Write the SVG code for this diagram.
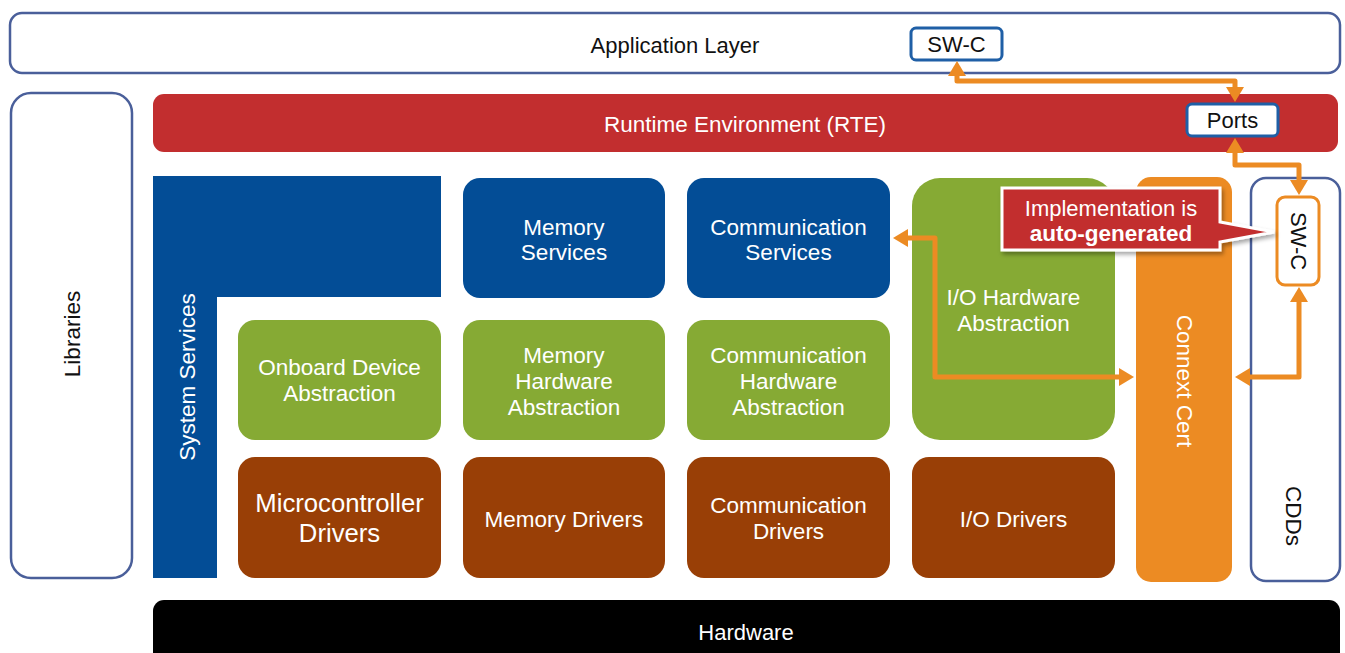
<svg xmlns="http://www.w3.org/2000/svg" width="1345" height="653" viewBox="0 0 1345 653">
<style>
text{font-family:"Liberation Sans",Arial,sans-serif;text-anchor:middle;dominant-baseline:central;font-size:22.5px}
.w{fill:#fff}.k{fill:#111}
.s22{font-size:22px}.big{font-size:25.7px}
.outline{fill:#fff;stroke:#4a5f9a;stroke-width:2.5}
.blue{fill:#034d96}.green{fill:#86aa34}.brown{fill:#993f06}
.conn{fill:none;stroke:#ec8b23;stroke-width:5;stroke-linejoin:round}
</style>
<defs>
<marker id="ah" viewBox="0 0 15 18" markerWidth="15" markerHeight="18" markerUnits="userSpaceOnUse" refX="3" refY="9" orient="auto-start-reverse"><path d="M0,0 L15,9 L0,18 Z" fill="#ec8b23"/></marker>
<filter id="sh" x="-10%" y="-20%" width="130%" height="150%"><feDropShadow dx="2" dy="3" stdDeviation="2" flood-color="#000" flood-opacity="0.35"/></filter>
</defs>
<rect width="1345" height="653" fill="#fff"/>

<g id="app-layer"><rect class="outline" x="10" y="13" width="1330" height="60" rx="12"/><text class="k s22" x="675" y="45">Application Layer</text></g>
<g id="swc-app"><rect x="911" y="28" width="91" height="32" rx="5" fill="#fff" stroke="#1f5fa6" stroke-width="3"/><text class="k s22" x="956.5" y="44">SW-C</text></g>

<g id="libraries"><rect class="outline" x="11" y="93" width="121" height="485" rx="20"/><text class="k" transform="translate(72,334) rotate(-90)">Libraries</text></g>

<g id="rte"><rect x="153" y="94" width="1185" height="58" rx="11" fill="#c22e2f"/><text class="w" x="745" y="124">Runtime Environment (RTE)</text></g>
<g id="ports"><rect x="1187" y="104" width="91" height="32" rx="5" fill="#fff" stroke="#1f5fa6" stroke-width="3"/><text class="k s22" x="1232.5" y="120">Ports</text></g>

<g id="system-services"><path class="blue" d="M153,176 H441 V297 H217 V578 H153 Z"/><text class="w" transform="translate(187,377) rotate(-90)">System Services</text></g>

<g id="memory-services"><rect class="blue" x="463" y="178" width="202" height="120" rx="17"/><text class="w" x="564" y="227">Memory</text><text class="w" x="564" y="252">Services</text></g>
<g id="communication-services"><rect class="blue" x="687" y="178" width="203" height="120" rx="17"/><text class="w" x="788.5" y="227">Communication</text><text class="w" x="788.5" y="252">Services</text></g>
<g id="io-hw-abstraction"><rect class="green" x="912" y="178" width="203" height="262" rx="28"/><text class="w" x="1013.5" y="297">I/O Hardware</text><text class="w" x="1013.5" y="323">Abstraction</text></g>

<g id="onboard-device-abstraction"><rect class="green" x="238" y="320" width="203" height="120" rx="17"/><text class="w" x="339.5" y="367">Onboard Device</text><text class="w" x="339.5" y="393">Abstraction</text></g>
<g id="memory-hw-abstraction"><rect class="green" x="463" y="320" width="202" height="120" rx="17"/><text class="w" x="564" y="355">Memory</text><text class="w" x="564" y="381">Hardware</text><text class="w" x="564" y="407">Abstraction</text></g>
<g id="comm-hw-abstraction"><rect class="green" x="687" y="320" width="203" height="120" rx="17"/><text class="w" x="788.5" y="355">Communication</text><text class="w" x="788.5" y="381">Hardware</text><text class="w" x="788.5" y="407">Abstraction</text></g>

<g id="mcu-drivers"><rect class="brown" x="238" y="457" width="203" height="121" rx="17"/><text class="w big" x="339.5" y="503">Microcontroller</text><text class="w big" x="339.5" y="533">Drivers</text></g>
<g id="memory-drivers"><rect class="brown" x="463" y="457" width="202" height="121" rx="17"/><text class="w" x="564" y="519">Memory Drivers</text></g>
<g id="comm-drivers"><rect class="brown" x="687" y="457" width="203" height="121" rx="17"/><text class="w" x="788.5" y="505">Communication</text><text class="w" x="788.5" y="531">Drivers</text></g>
<g id="io-drivers"><rect class="brown" x="912" y="457" width="203" height="121" rx="17"/><text class="w" x="1013.5" y="519">I/O Drivers</text></g>

<g id="connext-cert"><rect x="1136" y="177" width="96" height="405" rx="15" fill="#ec8b23"/><text class="w" transform="translate(1184,381) rotate(90)">Connext Cert</text></g>

<g id="cdds"><rect class="outline" x="1251" y="178" width="89" height="403" rx="15"/><text class="k" transform="translate(1293,516) rotate(90)">CDDs</text></g>
<g id="swc-cdd"><rect x="1277" y="197" width="42" height="88" rx="8" fill="#fff" stroke="#ec8b23" stroke-width="3"/><text class="k s22" transform="translate(1298,241) rotate(90)">SW-C</text></g>

<g id="hardware"><rect x="153" y="600" width="1187" height="70" rx="11" fill="#000"/><text class="w s22" x="746" y="632">Hardware</text></g>

<g id="connectors">
<path class="conn" d="M957,73 V81 H1235 V90" marker-start="url(#ah)" marker-end="url(#ah)"/>
<path class="conn" d="M1235,150 V165 H1299 V183" marker-start="url(#ah)" marker-end="url(#ah)"/>
<path class="conn" d="M1299,299 V377 H1247" marker-start="url(#ah)" marker-end="url(#ah)"/>
<path class="conn" d="M1122,377 H935 V238 H905" marker-start="url(#ah)" marker-end="url(#ah)"/>
</g>

<g id="callout"><path d="M1002,188 H1220 V222 L1274,232 L1220,242 V250 H1002 Z" fill="#c22e2f" stroke="#fff" stroke-width="3" stroke-linejoin="miter" filter="url(#sh)"/><text class="w s22" x="1111" y="208">Implementation is</text><text class="w" x="1111" y="233" font-weight="bold">auto-generated</text></g>
</svg>
